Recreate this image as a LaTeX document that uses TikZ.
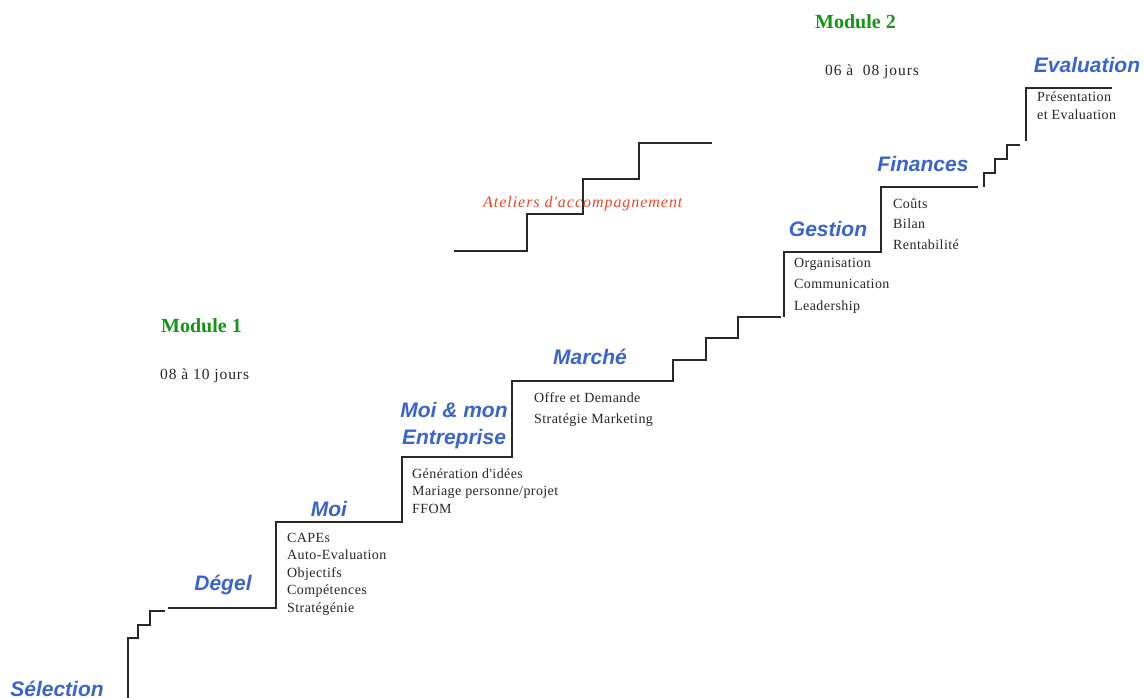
\documentclass[tikz,border=0pt]{standalone}
\usepackage{fontspec}
\setmainfont{Liberation Serif}
\newfontfamily\labfont{Liberation Sans}[BoldItalicFont={* Bold Italic}]
\newfontfamily\spacedfont{Liberation Serif}[LetterSpace=3]
\newfontfamily\widefont{Liberation Serif}[LetterSpace=6]
\definecolor{stepblue}{RGB}{58,100,205}
\definecolor{modgreen}{RGB}{20,150,20}
\definecolor{atred}{RGB}{232,72,40}
\definecolor{linegray}{RGB}{40,40,40}
\usetikzlibrary{calc}
\tikzset{
  stair/.style={draw=linegray, line width=1.3pt, line cap=butt, line join=miter},
  listtxt/.style={anchor=west, inner sep=0pt, text height=10pt, text depth=3pt, yshift=-1.5pt, font=\spacedfont\fontsize{14}{17}\selectfont, text=black!85},
  modtxt/.style={anchor=west, inner sep=0pt, font=\fontsize{20}{23}\selectfont\bfseries, text=modgreen},
  durtxt/.style={anchor=west, inner sep=0pt, font=\widefont\fontsize{15.5}{18}\selectfont, text=black!85},
  steplab/.style={inner sep=0pt, align=center, font=\labfont\fontsize{21}{26}\selectfont\bfseries\itshape, text=stepblue},
}
\begin{document}
\begin{tikzpicture}[x=1pt,y=-1pt]
\useasboundingbox (0,0) rectangle (1144,698);
% main staircase
\draw[stair] (128,698) -- (128,638) -- (138,638) -- (138,625) -- (150,625) -- (150,611) -- (165,611);
\draw[stair] (168,608) -- (276,608) -- (276,522) -- (402,522) -- (402,457) -- (512,457) -- (512,381)
  -- (673,381) -- (673,360) -- (706,360) -- (706,338) -- (738,338) -- (738,317) -- (781,317);
\draw[stair] (784,317) -- (784,252) -- (881,252) -- (881,187) -- (978,187);
\draw[stair] (984,187) -- (984,173) -- (995,173) -- (995,159) -- (1007,159) -- (1007,145) -- (1020,145);
\draw[stair] (1026,141) -- (1026,88) -- (1112,88);
% ateliers staircase
\draw[stair] (454,251) -- (527,251) -- (527,214) -- (583,214) -- (583,179) -- (639,179) -- (639,143) -- (712,143);
\node[anchor=west, inner sep=0pt, font=\widefont\fontsize{16}{19}\selectfont\itshape, text=atred] (atel) at (483,204) {Ateliers d'accompagnement};
% modules
\node[modtxt] (m1) at (161,326) {Module 1};
\node[durtxt] (d1) at (160,376) {08 à 10 jours};
\node[modtxt] (m2) at (815,22) {Module 2};
\node[durtxt] (d2) at (825,72) {06 à~~08 jours};
% blue labels
\node[steplab] (sel) at (57,689) {Sélection};
\node[steplab] (deg) at (223,585) {Dégel};
\node[steplab] (moi) at (329,509) {Moi};
\node[steplab] (ent) at (454,426) {Moi \& mon\\[1pt]Entreprise};
\node[steplab] (mar) at (590,357) {Marché};
\node[steplab] (ges) at (828,229) {Gestion};
\node[steplab] (fin) at (923,164) {Finances};
\node[steplab] (eva) at (1087,65) {Evaluation};
% lists
\node[listtxt] (l1a) at (287,537) {CAPEs};
\node[listtxt] (l1b) at (287,554.5) {Auto-Evaluation};
\node[listtxt] (l1c) at (287,572) {Objectifs};
\node[listtxt] (l1d) at (287,589.5) {Compétences};
\node[listtxt] (l1e) at (287,607) {Stratégénie};
\node[listtxt] (l2a) at (412,473) {Génération d'idées};
\node[listtxt] (l2b) at (412,490.5) {Mariage personne/projet};
\node[listtxt] (l2c) at (412,508) {FFOM};
\node[listtxt] (l3a) at (534,397) {Offre et Demande};
\node[listtxt] (l3b) at (534,418) {Stratégie Marketing};
\node[listtxt] (l4a) at (794,262) {Organisation};
\node[listtxt] (l4b) at (794,283.5) {Communication};
\node[listtxt] (l4c) at (794,305) {Leadership};
\node[listtxt] (l5a) at (893,203) {Coûts};
\node[listtxt] (l5b) at (893,223.5) {Bilan};
\node[listtxt] (l5c) at (893,244) {Rentabilité};
\node[listtxt] (l6a) at (1037,97) {Présentation};
\node[listtxt] (l6b) at (1037,115) {et Evaluation};
\end{tikzpicture}
\end{document}
